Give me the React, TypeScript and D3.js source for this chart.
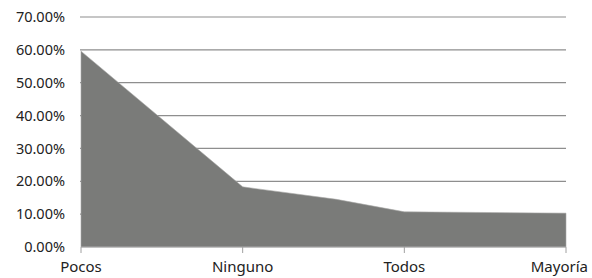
import React from "react";
import * as d3 from "d3";

const categories = ["Pocos", "Ninguno", "Todos", "Mayoría"];
// point positions on the category axis (1.58 is the extra bend between Ninguno and Todos)
const pointPos = [0, 1, 1.58, 2, 3];
const pointValues = [0.596, 0.183, 0.145, 0.107, 0.103];
const yTicks = [0, 0.1, 0.2, 0.3, 0.4, 0.5, 0.6, 0.7];

const width = 592;
const height = 278;
const margin = { top: 17, right: 26, bottom: 31, left: 81 };

const App: React.FC = () => {
  const x = d3
    .scaleLinear()
    .domain([0, categories.length - 1])
    .range([margin.left, width - margin.right]);

  const y = d3
    .scaleLinear()
    .domain([0, 0.7])
    .range([height - margin.bottom, margin.top]);

  const pts = pointPos.map((p, i) => [p, pointValues[i]] as [number, number]);

  const area = d3
    .area<[number, number]>()
    .x((d) => x(d[0]))
    .y0(y(0))
    .y1((d) => y(d[1]));

  const fmt = d3.format(".2%");
  const last = categories.length - 1;

  return (
    <svg
      width={width}
      height={height}
      style={{ position: "absolute", left: 0, top: 0 }}
      fontFamily="'Noto Sans', sans-serif"
    >
      {yTicks.slice(1).map((t) => (
        <line
          key={t}
          x1={x(0) - 1}
          x2={x(last)}
          y1={y(t)}
          y2={y(t)}
          stroke="#8e8e8e"
          strokeWidth={1.2}
        />
      ))}
      <path d={area(pts) ?? ""} fill="#7a7b79" stroke="#a9aaa8" strokeWidth={0.6} />
      <line
        x1={x(0)}
        x2={x(last)}
        y1={y(0)}
        y2={y(0)}
        stroke="#a0a0a0"
        strokeWidth={1}
      />
      {categories.map((c, i) => (
        <g key={c}>
          <line x1={x(i)} x2={x(i)} y1={y(0)} y2={y(0) + 6} stroke="#a0a0a0" strokeWidth={1} />
          <text
            x={i === last ? width - 4 : x(i)}
            y={height - 6}
            textAnchor={i === last ? "end" : "middle"}
            fontSize={15}
            fill="#222"
          >
            {c}
          </text>
        </g>
      ))}
      {yTicks.map((t) => (
        <text
          key={t}
          x={65}
          y={y(t)}
          dy="0.35em"
          textAnchor="end"
          fontSize={14.5}
          fill="#222"
        >
          {fmt(t)}
        </text>
      ))}
    </svg>
  );
};

export default App;
